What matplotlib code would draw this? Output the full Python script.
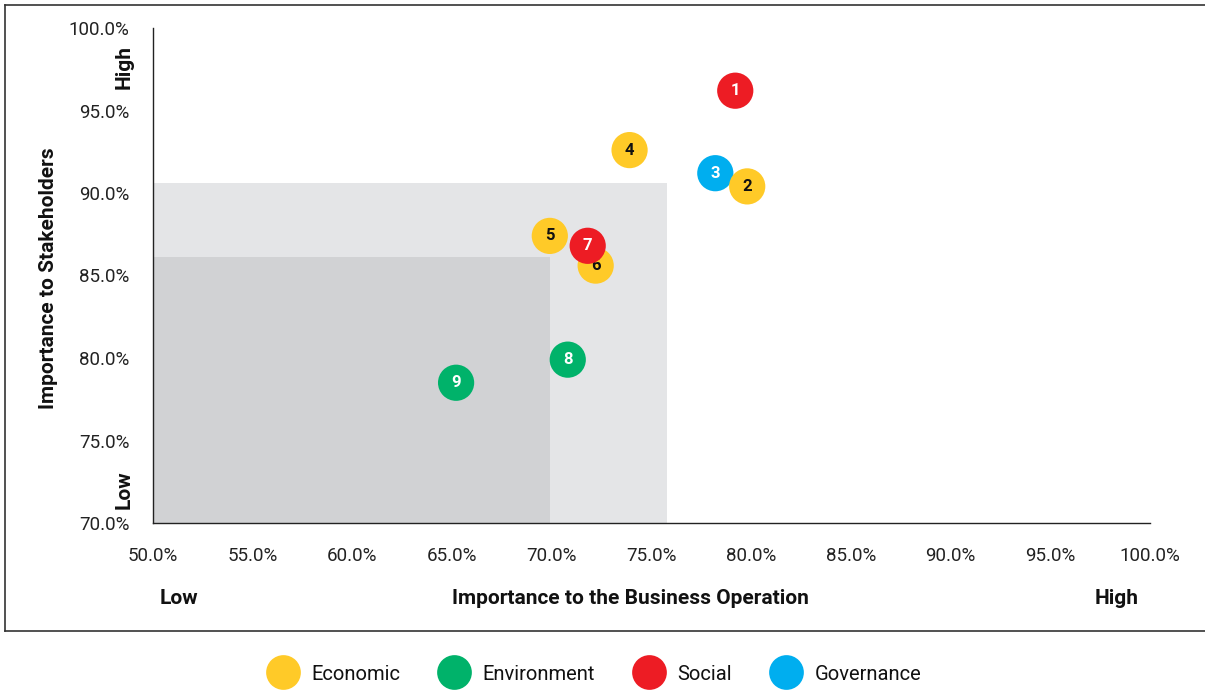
import matplotlib.pyplot as plt
from matplotlib.patches import Rectangle
from matplotlib.lines import Line2D
from matplotlib.ticker import PercentFormatter

plt.rcParams["font.family"] = ["Roboto", "DejaVu Sans"]

# topic ids, positions (%), category
ids = ["1", "2", "3", "4", "5", "6", "7", "8", "9"]
business = [79.2, 79.8, 78.2, 73.9, 69.9, 72.2, 71.8, 70.8, 65.2]
stakeholders = [96.2, 90.4, 91.2, 92.6, 87.4, 85.6, 86.8, 79.9, 78.5]
category = ["Social", "Economic", "Governance", "Economic", "Economic",
            "Economic", "Social", "Environment", "Environment"]

categories = ["Economic", "Environment", "Social", "Governance"]
colors = {"Economic": "#FFCA28", "Environment": "#00B26A",
          "Social": "#ED1C24", "Governance": "#00AEEF"}
label_color = {"Economic": "#111111", "Environment": "white",
               "Social": "white", "Governance": "white"}

# shaded zones: (x max, y max)
zone_outer = (75.8, 90.6)
zone_inner = (69.9, 86.1)

W, H = 1205, 691
fig = plt.figure(figsize=(W / 100, H / 100), dpi=100)
ax = fig.add_axes([153 / W, 1 - 523 / H, (1150 - 153) / W, (523 - 28) / H])

ax.set_xlim(50, 100)
ax.set_ylim(70, 100)

ax.add_patch(Rectangle((50, 70), zone_outer[0] - 50, zone_outer[1] - 70,
                       facecolor="#E4E5E7", edgecolor="none", zorder=0))
ax.add_patch(Rectangle((50, 70), zone_inner[0] - 50, zone_inner[1] - 70,
                       facecolor="#D1D2D4", edgecolor="none", zorder=0))

# draw order so that 7 sits over 6 and 3 under 2
order = [0, 3, 4, 5, 6, 7, 8, 2, 1]
for k, i in enumerate(order):
    c = category[i]
    ax.scatter(business[i], stakeholders[i], s=680, color=colors[c],
               edgecolors="none", zorder=3 + k * 0.1)
    ax.text(business[i], stakeholders[i], ids[i], ha="center", va="center",
            fontsize=12, fontweight="bold", color=label_color[c],
            zorder=3.05 + k * 0.1)

ax.set_xticks(range(50, 101, 5))
ax.set_yticks(range(70, 101, 5))
ax.xaxis.set_major_formatter(PercentFormatter(decimals=1))
ax.yaxis.set_major_formatter(PercentFormatter(decimals=1))
ax.tick_params(length=0, labelsize=13.5, colors="#222222")
ax.tick_params(axis="x", pad=17)
ax.tick_params(axis="y", pad=17)
for s in ["top", "right"]:
    ax.spines[s].set_visible(False)
for s in ["left", "bottom"]:
    ax.spines[s].set_color("#222222")
    ax.spines[s].set_linewidth(1.0)

# axis labels and Low/High markers
bold = dict(fontsize=15, fontweight="bold", color="#111111")
fig.text(49 / W, 1 - 278 / H, "Importance to Stakeholders", rotation=90,
         ha="center", va="center", **bold)
fig.text(124 / W, 1 - 67 / H, "High", rotation=90, ha="center", va="center", **bold)
fig.text(124 / W, 1 - 490 / H, "Low", rotation=90, ha="center", va="center", **bold)
fig.text(630 / W, 1 - 599 / H, "Importance to the Business Operation",
         ha="center", va="center", **bold)
fig.text(179 / W, 1 - 599 / H, "Low", ha="center", va="center", **bold)
fig.text(1117 / W, 1 - 599 / H, "High", ha="center", va="center", **bold)

# outer frame (open on the right)
frame_kw = dict(color="#333333", linewidth=1.2, transform=fig.transFigure)
fig.add_artist(Line2D([5 / W, 1], [1 - 5 / H, 1 - 5 / H], **frame_kw))
fig.add_artist(Line2D([5 / W, 5 / W], [1 - 5 / H, 1 - 631 / H], **frame_kw))
fig.add_artist(Line2D([5 / W, 1], [1 - 631 / H, 1 - 631 / H], **frame_kw))

# legend
handles = [Line2D([], [], marker="o", linestyle="none", markersize=25,
                  markerfacecolor=colors[c], markeredgecolor="none")
           for c in categories]
fig.legend(handles, categories, loc="center", bbox_to_anchor=(592 / W, 1 - 674 / H),
           ncol=4, frameon=False, fontsize=14.5, handletextpad=0.4,
           columnspacing=1.7, borderpad=0, labelcolor="#111111")

fig.savefig("out.png", dpi=100)
